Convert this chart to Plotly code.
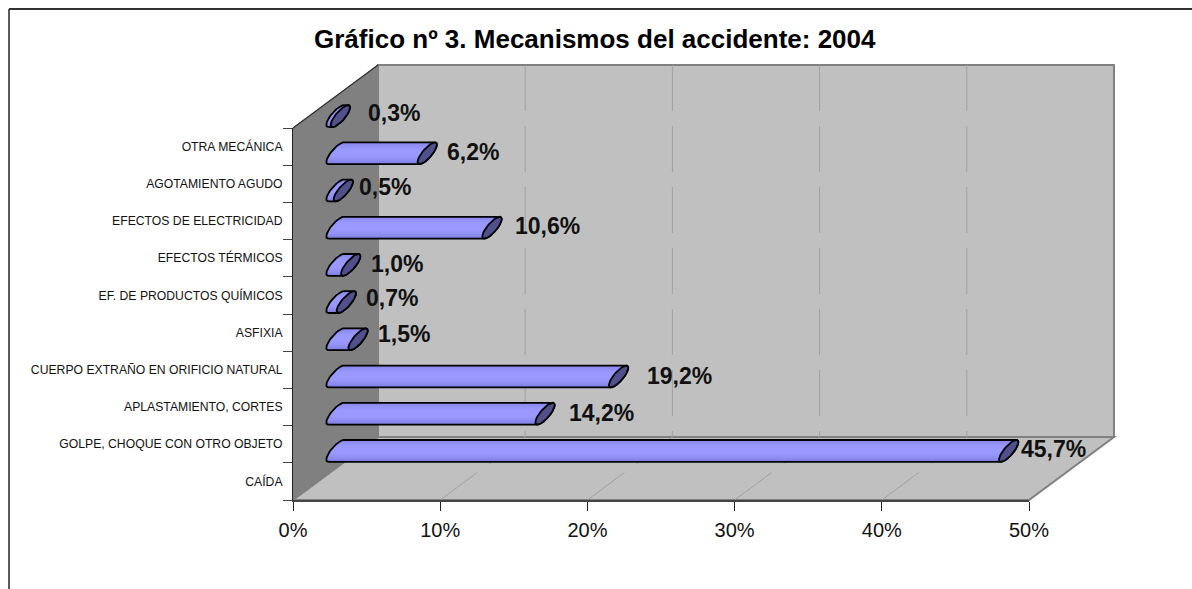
import numpy as np
import plotly.graph_objects as go

# ---- data ----
categories = ["CAÍDA", "GOLPE, CHOQUE CON OTRO OBJETO", "APLASTAMIENTO, CORTES",
              "CUERPO EXTRAÑO EN ORIFICIO NATURAL", "ASFIXIA", "EF. DE PRODUCTOS QUÍMICOS",
              "EFECTOS TÉRMICOS", "EFECTOS DE ELECTRICIDAD", "AGOTAMIENTO AGUDO", "OTRA MECÁNICA"]
values = [45.7, 14.2, 19.2, 1.5, 0.7, 1.0, 10.6, 0.5, 6.2, 0.3]
labels = ["45,7%", "14,2%", "19,2%", "1,5%", "0,7%", "1,0%", "10,6%", "0,5%", "6,2%", "0,3%"]
x_ticks = [0, 10, 20, 30, 40, 50]
x_ticktext = ["0%", "10%", "20%", "30%", "40%", "50%"]
title_text = "Gráfico nº 3. Mecanismos del accidente: 2004"

# per-label nudges (px), as hand placed in the original
label_dx = [10, 22, 26, 18, 18, 18, 21, 14, 18, 26]
label_dy = [2, 1, 1, 5, 4, 1, 2, 4, 1, 3]

# ---- layout geometry (px) ----
W, H = 1192, 589
FX0, FX1 = 293, 1029     # front x-axis extent
FY0, FY1 = 128, 500      # front y-axis extent
DX, DY = 85, 63          # depth of the box
BAR_DX, BAR_DY = 43, 30.5  # bars sit this far into the box

def px(v): return v / W
def py(v): return 1 - v / H

PX_PER_X = (FX1 - FX0) / 50
PX_PER_Y = (FY1 - FY0) / 10
X2_MIN = -1.0            # room for the rounded start of the cylinders

def poly(pts):
    return "M " + " L ".join(f"{px(a):.5f},{py(b):.5f}" for a, b in pts) + " Z"

GREY = "#808080"
shapes = [
    dict(type="path", xref="paper", yref="paper", layer="below",
         path=poly([(FX0 + DX, FY0 - DY), (FX1 + DX, FY0 - DY), (FX1 + DX, FY1 - DY), (FX0 + DX, FY1 - DY)]),
         fillcolor="#c0c0c0", line=dict(color=GREY, width=2)),
    dict(type="path", xref="paper", yref="paper", layer="below",
         path=poly([(FX0, FY1), (FX0 + DX, FY1 - DY), (FX1 + DX, FY1 - DY), (FX1, FY1)]),
         fillcolor="#c0c0c0", line=dict(color=GREY, width=2)),
    dict(type="path", xref="paper", yref="paper", layer="below",
         path=poly([(FX0, FY0), (FX0 + DX, FY0 - DY), (FX0 + DX, FY1 - DY), (FX0, FY1)]),
         fillcolor="#808080", line=dict(color="#808080", width=1)),
    dict(type="line", xref="paper", yref="paper", layer="below",
         x0=px(FX0), y0=py(FY0), x1=px(FX0 + DX), y1=py(FY0 - DY),
         line=dict(color="#303030", width=1.2)),
    # chart frame: left and top only, the rest is cut by the picture
    dict(type="line", xref="paper", yref="paper", layer="below",
         x0=px(9), y0=py(9), x1=px(9), y1=0, line=dict(color="#222222", width=1.5)),
    dict(type="line", xref="paper", yref="paper", layer="below",
         x0=px(9), y0=py(9), x1=1, y1=py(9), line=dict(color="#333333", width=2)),
]
for t in x_ticks[1:-1]:
    fx = FX0 + t * PX_PER_X
    shapes.append(dict(type="line", xref="paper", yref="paper", layer="below",
                       x0=px(fx + DX), y0=py(FY0 - DY), x1=px(fx + DX), y1=py(FY1 - DY),
                       line=dict(color="#a0a0a0", width=1, dash="46px,15px")))
    shapes.append(dict(type="line", xref="paper", yref="paper", layer="below",
                       x0=px(fx), y0=py(FY1), x1=px(fx + DX), y1=py(FY1 - DY),
                       line=dict(color="#a0a0a0", width=1, dash="46px,15px")))

# ---- cylinders ----
A = np.array([9.0, -10.5])   # px, conjugate semi-diameters of the slanted end
B = np.array([3.5, 3.0])
phi = np.arctan2(B[1], A[1])
LEFT_T = np.linspace(phi, phi + np.pi, 26)
RIGHT_T = np.linspace(phi + np.pi, phi + 2 * np.pi, 26)
ALL_T = np.linspace(0, 2 * np.pi, 50)

def ell(t):
    return (np.cos(t) * A[0] + np.sin(t) * B[0]) / PX_PER_X, \
           -(np.cos(t) * A[1] + np.sin(t) * B[1]) / PX_PER_Y

fig = go.Figure()
# empty trace keeps the front axes on the page
fig.add_trace(go.Scatter(x=[], y=[], xaxis="x", yaxis="y", showlegend=False))
fig.add_trace(go.Bar(x=values, y=list(range(len(values))), orientation="h", xaxis="x2", yaxis="y2",
                     width=0.5, marker=dict(color="#9999ff", line=dict(width=0)),
                     showlegend=False, name="Mecanismos", hovertext=categories))
band = [[0, "#7878da"], [0.12, "#8888ea"], [0.3, "#9696fa"], [0.42, "#9999ff"], [0.68, "#9999ff"],
        [0.85, "#9090f4"], [1, "#8484e4"]]
for i, v in enumerate(values):
    lx, ly = ell(LEFT_T)
    rx, ry = ell(RIGHT_T)
    fig.add_trace(go.Scatter(
        x=np.concatenate([lx, rx + v, [lx[0]]]), y=np.concatenate([ly, ry, [ly[0]]]) + i,
        xaxis="x2", yaxis="y2", mode="lines", fill="toself",
        fillgradient=dict(type="vertical", colorscale=band),
        line=dict(color="#000000", width=1.8), showlegend=False, hoverinfo="skip"))
    ex, ey = ell(ALL_T)
    fig.add_trace(go.Scatter(
        x=ex + v, y=ey + i, xaxis="x2", yaxis="y2", mode="lines", fill="toself",
        fillcolor="#50508c", line=dict(color="#000000", width=1.8),
        showlegend=False, hoverinfo="skip"))

annotations = [dict(text=f"<b>{title_text}</b>", xref="paper", yref="paper", x=px(595), y=py(39),
                    xanchor="center", yanchor="middle", showarrow=False,
                    font=dict(family="Liberation Sans", size=26, color="#000000"))]
for i, (v, s) in enumerate(zip(values, labels)):
    annotations.append(dict(text=f"<b>{s}</b>", xref="x2", yref="y2", x=v, y=i,
                            xanchor="left", yanchor="middle", showarrow=False,
                            xshift=label_dx[i], yshift=label_dy[i],
                            font=dict(family="Liberation Sans", size=23, color="#111111")))

x2_left = FX0 + BAR_DX + X2_MIN * PX_PER_X
fig.update_layout(
    width=W, height=H, autosize=False, margin=dict(l=0, r=0, t=0, b=0, pad=0),
    paper_bgcolor="#ffffff", plot_bgcolor="rgba(0,0,0,0)", showlegend=False,
    barmode="overlay", shapes=shapes, annotations=annotations,
    xaxis=dict(domain=[px(FX0), px(FX1)], range=[0, 50], anchor="y", tickvals=x_ticks, ticktext=x_ticktext,
               ticks="outside", ticklen=9, tickwidth=1, tickcolor="#222222", showgrid=False, zeroline=False,
               showline=True, linecolor="#444444", linewidth=1.5, ticklabelstandoff=2, automargin=False,
               tickfont=dict(family="Liberation Sans", size=20, color="#111111")),
    yaxis=dict(domain=[py(FY1), py(FY0)], range=[-0.5, 9.5], anchor="x",
               tickvals=list(range(len(categories))), ticktext=categories, ticks="", ticklen=0,
               ticklabelstandoff=7, showgrid=False, zeroline=False, automargin=False,
               showline=True, linecolor="#222222", linewidth=1,
               minor=dict(tickvals=[i - 0.5 for i in range(len(categories) + 1)], ticks="outside",
                          ticklen=9, tickwidth=1, tickcolor="#444444", showgrid=False),
               tickfont=dict(family="Liberation Sans", size=12.2, color="#111111")),
    xaxis2=dict(domain=[px(x2_left), px(FX1 + BAR_DX)], range=[X2_MIN, 50], anchor="y2",
                visible=False, automargin=False),
    yaxis2=dict(domain=[py(FY1 - BAR_DY), py(FY0 - BAR_DY)], range=[-0.5, 9.5], anchor="x2",
                visible=False, automargin=False),
)
fig.write_html("out.html", config={"displayModeBar": False},
               post_script="document.body.style.margin='0';")
